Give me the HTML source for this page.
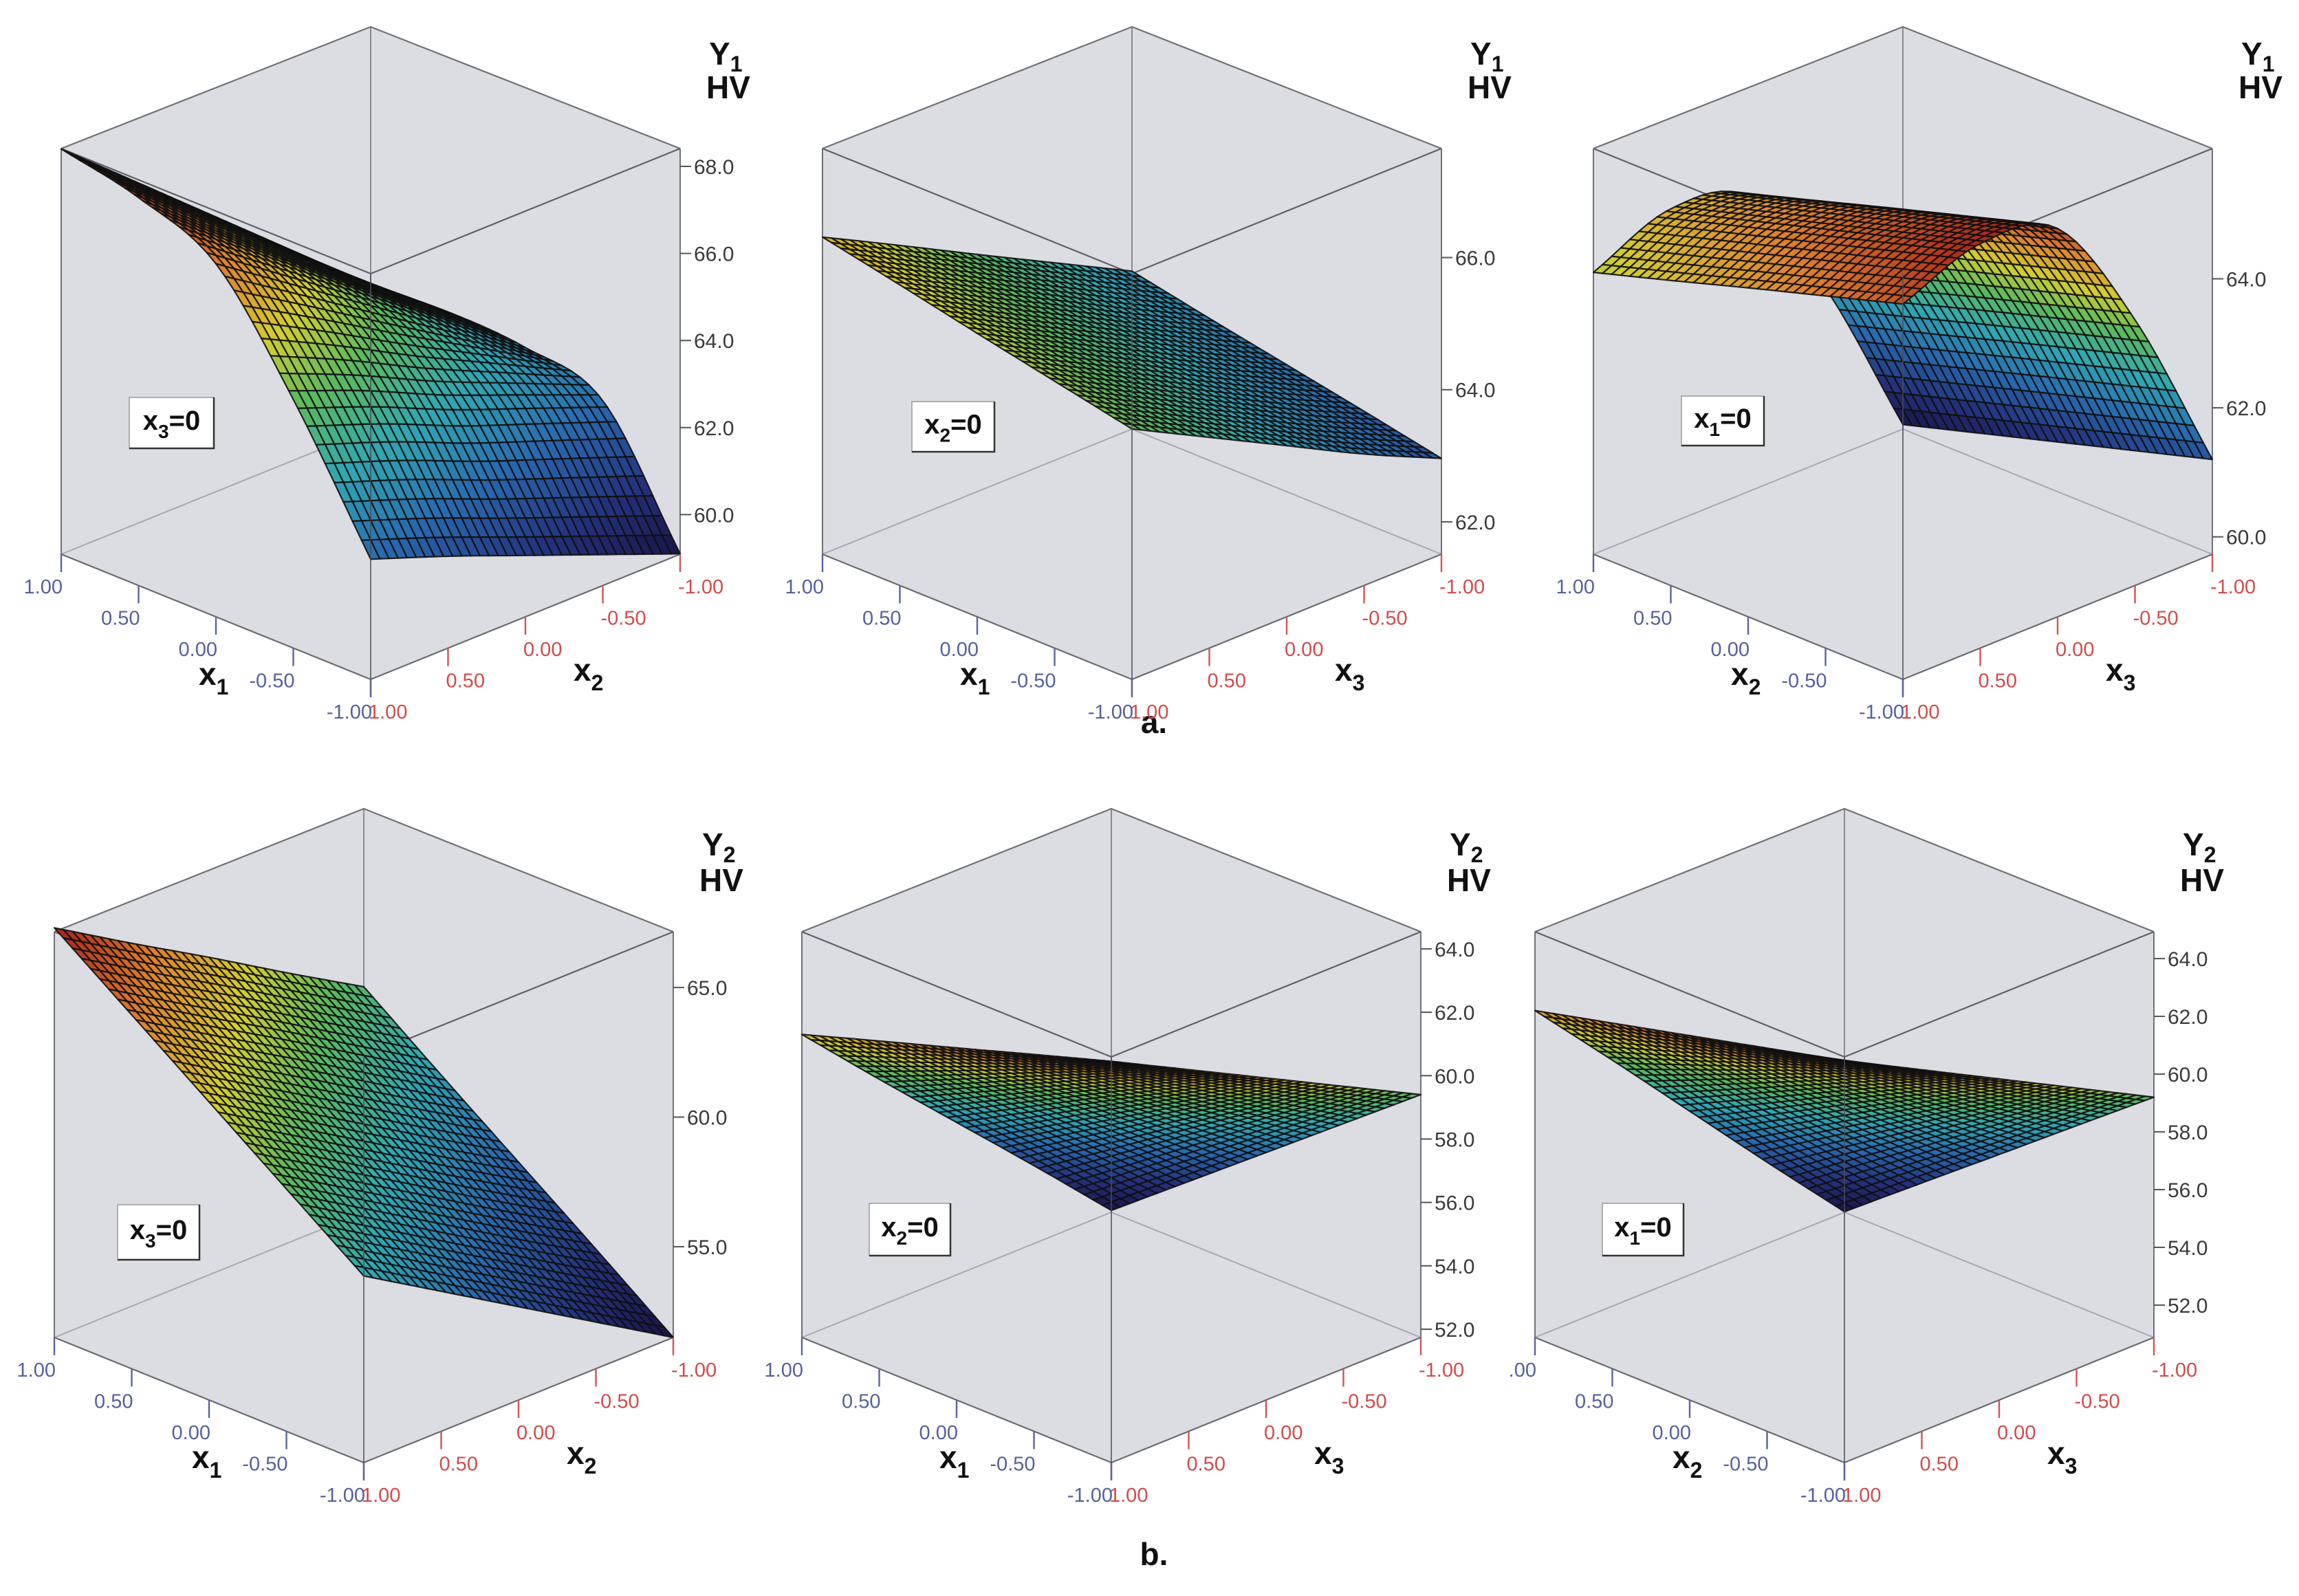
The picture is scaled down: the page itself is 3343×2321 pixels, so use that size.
<!DOCTYPE html>
<html><head><meta charset="utf-8"><style>
html,body{margin:0;padding:0;background:#fff;}
svg{display:block;font-family:"Liberation Sans",Arial,sans-serif;}
</style></head><body>
<svg id="fig" width="3343" height="2321" viewBox="0 0 3343 2321" xmlns="http://www.w3.org/2000/svg">
<rect x="0" y="0" width="3343" height="2321" fill="#ffffff"/>
<text x="1678" y="1066" font-size="46" font-weight="bold" text-anchor="middle" fill="#111">a.</text>
<text x="1678" y="2276" font-size="46" font-weight="bold" text-anchor="middle" fill="#111">b.</text>
</svg>
<script>
// ---- data ----
const levels = [1, 0.5, 0, -0.5, -1];
const leftTickLabels = ["1.00", "0.50", "0.00", "-0.50", "-1.00"];
const rightTickLabels = ["1.00", "0.50", "0.00", "-0.50", "-1.00"];
// rows = left factor (1 -> -1), cols = right factor (1 -> -1)
const a1Values = [
  [68.4, 66.9, 65.4, 63.9, 62.4],
  [68.0, 66.6, 65.2, 63.8, 62.5],
  [67.2, 66.0, 64.8, 63.6, 62.4],
  [64.8, 64.1, 63.3, 62.6, 61.9],
  [61.85, 61.2, 60.5, 59.8, 59.1]
];
const a2Values = [
  [66.31, 65.71, 65.1, 64.5, 63.9],
  [66.06, 65.45, 64.85, 64.24, 63.66],
  [65.8, 65.2, 64.6, 64.0, 63.43],
  [65.55, 64.95, 64.35, 63.75, 63.2],
  [65.3, 64.7, 64.1, 63.5, 62.96]
];
const a3Values = [
  [64.1, 64.6, 64.3, 62.4, 59.8],
  [64.46, 64.95, 64.66, 62.76, 60.15],
  [64.83, 65.3, 65.03, 63.13, 60.5],
  [65.19, 65.65, 65.39, 63.49, 60.85],
  [65.55, 66.0, 65.75, 63.85, 61.2]
];
const b1Values = [
  [67.3, 65.5, 63.75, 61.95, 60.2],
  [65.15, 63.35, 61.6, 59.8, 58.0],
  [63.0, 61.2, 59.4, 57.6, 55.85],
  [60.85, 59.05, 57.25, 55.45, 53.7],
  [58.7, 56.9, 55.1, 53.3, 51.5]
];
const b2Values = [
  [61.3, 58.9, 56.55, 54.2, 51.8],
  [62.08, 59.96, 57.89, 55.81, 53.7],
  [62.85, 61.03, 59.23, 57.43, 55.6],
  [63.63, 62.09, 60.56, 59.04, 57.5],
  [64.4, 63.15, 61.9, 60.65, 59.4]
];
const b3Values = [
  [62.2, 59.4, 56.55, 53.7, 50.9],
  [62.85, 60.4, 57.91, 55.43, 52.98],
  [63.5, 61.4, 59.28, 57.15, 55.05],
  [64.15, 62.4, 60.64, 58.88, 57.13],
  [64.8, 63.4, 62.0, 60.6, 59.2]
];
const a1Ticks = [60, 62, 64, 66, 68];
const a2Ticks = [62, 64, 66];
const a3Ticks = [60, 62, 64];
const b1Ticks = [55, 60, 65];
const b2Ticks = [52, 54, 56, 58, 60, 62, 64];
const b3Ticks = [52, 54, 56, 58, 60, 62, 64];

// ---- layout ----
const rows = [
  {backTop: 39, sideTop: 216, sideBot: 806, frontBot: 988, yT: 94, hvT: 143},
  {backTop: 1176, sideTop: 1355, sideBot: 1945, frontBot: 2127, yT: 1244, hvT: 1296}
];
const panels = [
  {id: 'a1', cx: 539, row: 0, vals: a1Values, ticks: a1Ticks, zmin: 59.09, zmax: 68.41, lf: '1', rf: '2', fx: '3', yn: '1', box: [188, 578, 123, 74], dec: 1},
  {id: 'a2', cx: 1646, row: 0, vals: a2Values, ticks: a2Ticks, zmin: 61.51, zmax: 67.65, lf: '1', rf: '3', fx: '2', yn: '1', box: [1326, 584, 120, 73], dec: 1},
  {id: 'a3', cx: 2767, row: 0, vals: a3Values, ticks: a3Ticks, zmin: 59.73, zmax: 66.02, lf: '2', rf: '3', fx: '1', yn: '1', box: [2445, 576, 120, 72], dec: 1},
  {id: 'b1', cx: 529, row: 1, vals: b1Values, ticks: b1Ticks, zmin: 51.5, zmax: 67.15, lf: '1', rf: '2', fx: '3', yn: '2', box: [171, 1752, 119, 80], dec: 1},
  {id: 'b2', cx: 1616, row: 1, vals: b2Values, ticks: b2Ticks, zmin: 51.74, zmax: 64.54, lf: '1', rf: '3', fx: '2', yn: '2', box: [1264, 1750, 118, 76], dec: 1},
  {id: 'b3', cx: 2682, row: 1, vals: b3Values, ticks: b3Ticks, zmin: 50.88, zmax: 64.93, lf: '2', rf: '3', fx: '1', yn: '2', box: [2330, 1750, 118, 76], dec: 1, clipLeft: true}
];
const W = 450;
const NS = 'http://www.w3.org/2000/svg';
const svg = document.getElementById('fig');

function mk(tag, attrs, parent) {
  const el = document.createElementNS(NS, tag);
  for (const k in attrs) el.setAttribute(k, attrs[k]);
  parent.appendChild(el);
  return el;
}
const stops = [
  [0.0, [24, 20, 70]], [0.14, [36, 48, 124]], [0.3, [40, 106, 176]],
  [0.45, [46, 168, 180]], [0.6, [92, 186, 92]], [0.72, [212, 206, 46]],
  [0.86, [222, 128, 44]], [1.0, [170, 38, 26]]
];
function cmap(v) {
  v = Math.max(0, Math.min(1, v));
  for (let i = 1; i < stops.length; i++) {
    if (v <= stops[i][0]) {
      const a = stops[i - 1], b = stops[i];
      const f = (v - a[0]) / (b[0] - a[0]);
      const c = a[1].map((x, k) => Math.round(x + (b[1][k] - x) * f));
      return 'rgb(' + c.join(',') + ')';
    }
  }
  return 'rgb(170,38,26)';
}
function cr(p0, p1, p2, p3, t) {
  const t2 = t * t, t3 = t2 * t;
  return 0.5 * ((2 * p1) + (-p0 + p2) * t + (2 * p0 - 5 * p1 + 4 * p2 - p3) * t2 + (-p0 + 3 * p1 - 3 * p2 + p3) * t3);
}
function interp1(arr, u) {
  const n = arr.length - 1;
  let i = Math.min(Math.floor(u), n - 1);
  const f = u - i;
  const g = k => arr[Math.max(0, Math.min(n, k))];
  const p0 = i - 1 < 0 ? 2 * g(0) - g(1) : g(i - 1);
  const p3 = i + 2 > n ? 2 * g(n) - g(n - 1) : g(i + 2);
  return cr(p0, g(i), g(i + 1), p3, f);
}
function surf(vals, s, t) {
  const u = s * (levels.length - 1), v = t * (levels.length - 1);
  const col = vals.map(r => interp1(r, v));
  return interp1(col, u);
}

panels.forEach(P => {
  const R = rows[P.row];
  const d = R.frontBot - R.sideBot;
  const H = R.sideBot - R.sideTop;
  const frontTop = R.sideTop + d;
  const backFloor = R.sideBot - d;
  const cx = P.cx;
  const zy = Y => (Y - P.zmin) / (P.zmax - P.zmin) * H;
  const proj = (s, t, Y) => [cx - W * (1 - s) + W * t, R.frontBot - d * (1 - s) - d * t - zy(Y)];

  const g = mk('g', {}, svg);
  
  

  const cube = mk('polygon', {points: [[cx, R.backTop], [cx + W, R.sideTop], [cx + W, R.sideBot], [cx, R.frontBot], [cx - W, R.sideBot], [cx - W, R.sideTop]].map(p => p.join(',')).join(' '), fill: '#dcdde3', stroke: 'none'}, g);
  
  

  const lines = [
    [[cx - W, R.sideBot], [cx, backFloor], [cx + W, R.sideBot], '#a8a9b0', 2],
    [[cx, R.backTop], [cx, backFloor], null, '#8a8b92', 2],
    [[cx - W, R.sideTop], [cx, R.backTop], [cx + W, R.sideTop], '#707178', 2.2],
    [[cx - W, R.sideTop], [cx, frontTop], [cx + W, R.sideTop], '#606168', 2.2],
    [[cx - W, R.sideTop], [cx - W, R.sideBot], null, '#707178', 2],
    [[cx + W, R.sideTop], [cx + W, R.sideBot], null, '#707178', 2],
    [[cx - W, R.sideBot], [cx, R.frontBot], [cx + W, R.sideBot], '#6a6b72', 2.2]
  ];
  lines.forEach(L => {
    const pts = L.slice(0, 3).filter(p => p).map(p => p.join(',')).join(' ');
    const el = mk('polyline', {points: pts, fill: 'none', stroke: L[3], 'stroke-width': L[4]}, g);
    
    
  });

  // surface
  const N = 34;
  const grid = [];
  for (let i = 0; i <= N; i++) {
    grid.push([]);
    for (let j = 0; j <= N; j++) grid[i].push(surf(P.vals, i / N, j / N));
  }
  const cells = [];
  for (let i = 0; i < N; i++) for (let j = 0; j < N; j++) {
    cells.push([i, j, (1 - (i + 0.5) / N) + (j + 0.5) / N]);
  }
  cells.sort((a, b) => b[2] - a[2]);
  const sg = mk('g', {}, g);
  
  
  cells.forEach(c => {
    const i = c[0], j = c[1];
    const corners = [[i, j], [i + 1, j], [i + 1, j + 1], [i, j + 1]];
    const pts = corners.map(k => proj(k[0] / N, k[1] / N, grid[k[0]][k[1]]));
    const avg = corners.reduce((a, k) => a + grid[k[0]][k[1]], 0) / 4;
    const el = mk('polygon', {points: pts.map(p => p[0].toFixed(1) + ',' + p[1].toFixed(1)).join(' '), fill: cmap((avg - P.zmin) / (P.zmax - P.zmin)), stroke: '#101010', 'stroke-width': 2.2, 'stroke-opacity': 0.9, 'stroke-linejoin': 'round'}, sg);
    
    
  });

  const fv = mk('line', {x1: cx, y1: frontTop, x2: cx, y2: R.frontBot, stroke: '#4a4b55', 'stroke-width': 2, 'stroke-opacity': 0.75}, g);
  
  

  // z ticks
  P.ticks.forEach(tv => {
    const y = R.sideBot - zy(tv);
    const tk = mk('line', {x1: cx + W, y1: y, x2: cx + W + 16, y2: y, stroke: '#555', 'stroke-width': 2}, g);
    
    
    const tl = mk('text', {x: cx + W + 20, y: y + 11, 'font-size': 30, fill: '#3a3a3a'}, g);
    tl.textContent = tv.toFixed(P.dec);
    
    
  });

  // x ticks
  levels.forEach((lv, k) => {
    const s = k / (levels.length - 1);
    const lx = cx - W + s * W, ly = R.sideBot + s * d;
    const t1 = mk('line', {x1: lx, y1: ly, x2: lx, y2: ly + 26, stroke: '#5a64a0', 'stroke-width': 2.4}, g);
    
    
    const l1 = mk('text', {x: lx + 2, y: ly + 57, 'font-size': 29, fill: '#56609c', 'text-anchor': 'end'}, g);
    l1.textContent = (P.clipLeft && k === 0) ? '.00' : leftTickLabels[k];
    
    
    const rx = cx + s * W, ry = R.frontBot - s * d;
    const t2 = mk('line', {x1: rx, y1: ry, x2: rx, y2: ry + 26, stroke: '#d05454', 'stroke-width': 2.4}, g);
    
    
    const l2 = mk('text', {x: rx - 3, y: ry + 57, 'font-size': 29, fill: '#d04c4c', 'text-anchor': 'start'}, g);
    l2.textContent = rightTickLabels[k];
    
    
  });

  // axis titles
  const xt1 = mk('text', {x: cx - 250, y: R.sideBot + 190, 'font-size': 46, 'font-weight': 'bold', fill: '#111'}, g);
  
  
  xt1.innerHTML = 'x<tspan font-size="32" dy="14">' + P.lf + '</tspan>';
  const xt2 = mk('text', {x: cx + 295, y: R.sideBot + 184, 'font-size': 46, 'font-weight': 'bold', fill: '#111'}, g);
  
  
  xt2.innerHTML = 'x<tspan font-size="32" dy="14">' + P.rf + '</tspan>';
  const yt = mk('text', {x: cx + 492, y: R.yT, 'font-size': 46, 'font-weight': 'bold', fill: '#111'}, g);
  
  
  yt.innerHTML = 'Y<tspan font-size="32" dy="10">' + P.yn + '</tspan>';
  const hv = mk('text', {x: cx + 488, y: R.hvT, 'font-size': 46, 'font-weight': 'bold', fill: '#111'}, g);
  hv.textContent = 'HV';
  
  

  // fixed factor box
  const b = P.box;
  const br = mk('rect', {x: b[0], y: b[1], width: b[2], height: b[3], fill: '#ffffff', stroke: '#9a9a9a', 'stroke-width': 1.5}, g);
  
  
  const bs = mk('polyline', {points: (b[0]) + ',' + (b[1] + b[3]) + ' ' + (b[0] + b[2]) + ',' + (b[1] + b[3]) + ' ' + (b[0] + b[2]) + ',' + b[1], fill: 'none', stroke: '#333', 'stroke-width': 2.5}, g);
  
  
  const bt = mk('text', {x: b[0] + b[2] / 2, y: b[1] + b[3] / 2 + 10, 'font-size': 40, 'font-weight': 'bold', fill: '#111', 'text-anchor': 'middle'}, g);
  
  
  bt.innerHTML = 'x<tspan font-size="28" dy="12">' + P.fx + '</tspan><tspan dy="-12">=0</tspan>';
});
</script>
</body></html>
